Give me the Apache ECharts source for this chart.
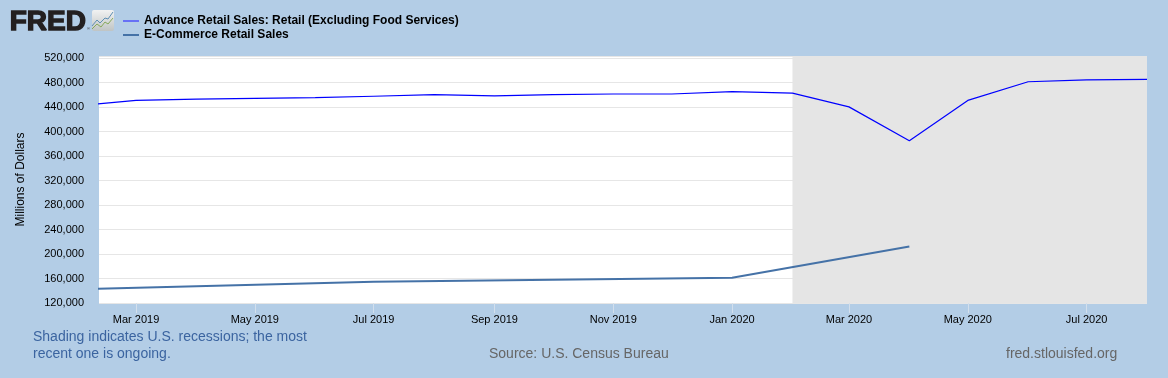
<!DOCTYPE html>
<html>
<head>
<meta charset="utf-8">
<style>html,body{margin:0;padding:0;background:#b3cde6}#c{width:1168px;height:378px}</style>
<script src="https://cdn.jsdelivr.net/npm/echarts@6/dist/echarts.min.js"></script>
</head>
<body>
<div id="c"></div>
<script>
const retailName = 'Advance Retail Sales: Retail (Excluding Food Services)';
const ecomName = 'E-Commerce Retail Sales';
const retailDates = ['2019-02-01','2019-03-01','2019-04-01','2019-05-01','2019-06-01','2019-07-01','2019-08-01','2019-09-01','2019-10-01','2019-11-01','2019-12-01','2020-01-01','2020-02-01','2020-03-01','2020-04-01','2020-05-01','2020-06-01','2020-07-01','2020-08-01'];
const retailValues = [443000,451000,453000,454500,455500,457800,460500,458500,460500,461500,461500,465500,463000,440500,385000,451000,481500,484500,485500];
const ecomDates = ['2019-01-01','2019-04-01','2019-07-01','2019-10-01','2020-01-01','2020-04-01'];
const ecomValues = [140000,147200,154800,158000,161300,212400];
const tickDates = ['2019-03-01','2019-05-01','2019-07-01','2019-09-01','2019-11-01','2020-01-01','2020-03-01','2020-05-01','2020-07-01'];
const tickLabels = ['Mar 2019','May 2019','Jul 2019','Sep 2019','Nov 2019','Jan 2020','Mar 2020','May 2020','Jul 2020'];
const recessionStart = '2020-02-01';
const axisStart = '2019-02-10';
const axisEnd = '2020-08-01';
const yTitle = 'Millions of Dollars';
const noteLines = 'Shading indicates U.S. recessions; the most\nrecent one is ongoing.';
const sourceText = 'Source: U.S. Census Bureau';
const siteText = 'fred.stlouisfed.org';

const ms = s => Date.parse(s + 'T00:00:00Z');
const pairs = (ds, vs) => ds.map((d, i) => [ms(d), vs[i]]);
const FONT = '"Liberation Sans", Arial, sans-serif';
const tickMs = tickDates.map(ms);

const chart = echarts.init(document.getElementById('c'), null, {renderer: 'canvas'});
chart.setOption({
  animation: false,
  backgroundColor: '#b3cde6',
  textStyle: {fontFamily: FONT},
  grid: {left: 99, top: 56, width: 1048, height: 247, show: true, backgroundColor: '#ffffff', borderWidth: 0, containLabel: false},
  legend: {
    orient: 'vertical', left: 118, top: 9, itemGap: 0, itemWidth: 16, itemHeight: 14, padding: 5,
    selectedMode: false,
    textStyle: {fontFamily: FONT, fontSize: 12, color: '#000', fontWeight: 'bold', lineHeight: 14},
    data: [
      {name: retailName, icon: 'path://M0 6.4H16V7.6H0Z', itemStyle: {color: '#3434ff'}},
      {name: ecomName, icon: 'path://M0 6H16V8H0Z', itemStyle: {color: '#4572a7'}}
    ]
  },
  xAxis: {
    type: 'value', min: ms(axisStart), max: ms(axisEnd),
    axisLine: {show: false},
    axisTick: {show: true, length: 10, customValues: tickMs, lineStyle: {color: '#d3dfec', width: 1}},
    splitLine: {show: false},
    axisLabel: {
      customValues: tickMs, margin: 11, fontSize: 11, color: '#000', fontFamily: FONT, hideOverlap: false,
      formatter: v => tickLabels[tickMs.indexOf(v)] || ''
    }
  },
  yAxis: {
    type: 'value', min: 120000, max: 523600, interval: 40000,
    name: yTitle, nameLocation: 'middle', nameGap: 72,
    nameTextStyle: {fontSize: 12, color: '#000', fontFamily: FONT},
    axisLine: {show: false}, axisTick: {show: false},
    splitLine: {show: true, lineStyle: {color: '#e6e6e6', width: 1}},
    axisLabel: {
      margin: 15, fontSize: 11, color: '#000', fontFamily: FONT, showMaxLabel: false,
      formatter: v => v.toLocaleString('en-US')
    }
  },
  series: [
    {
      name: retailName, type: 'line', showSymbol: false, symbol: 'none', smooth: false, z: 3,
      data: pairs(retailDates, retailValues),
      lineStyle: {color: '#0000ff', width: 1.2}, itemStyle: {color: '#0000ff'},
      markArea: {
        silent: true, itemStyle: {color: '#e5e5e5'},
        data: [[{xAxis: ms(recessionStart)}, {xAxis: ms(axisEnd)}]]
      }
    },
    {
      name: ecomName, type: 'line', showSymbol: false, symbol: 'none', smooth: false, z: 3,
      data: pairs(ecomDates, ecomValues),
      lineStyle: {color: '#4572a7', width: 2}, itemStyle: {color: '#4572a7'}
    }
  ],
  graphic: [
    {type: 'text', left: 33, top: 329, style: {text: noteLines, font: '14px ' + FONT, fill: '#3b64a0', lineHeight: 17}},
    {type: 'text', left: 489, top: 347, style: {text: sourceText, font: '14px ' + FONT, fill: '#666666'}},
    {type: 'text', left: 1006, top: 347, style: {text: siteText, font: '14px ' + FONT, fill: '#666666'}},
    {type: 'text', left: 9, top: 8, style: {text: 'FRED', font: 'bold 28px ' + FONT, fill: '#231f20', stroke: '#231f20', lineWidth: 1.4}},
    {type: 'text', left: 87, top: 27, style: {text: '®', font: '4px ' + FONT, fill: '#231f20'}},
    {type: 'rect', shape: {x: 92, y: 10, width: 22, height: 21, r: 2}, style: {fill: new echarts.graphic.LinearGradient(0, 0, 0, 1, [{offset: 0, color: '#f2f2f2'}, {offset: 1, color: '#bfc4c4'}])}},
    {type: 'polyline', shape: {points: [[92, 26], [97, 20], [100, 23], [105, 18], [108, 19], [113, 12]]}, style: {fill: 'none', stroke: '#5f8fb4', lineWidth: 1}},
    {type: 'polyline', shape: {points: [[92, 29], [97, 24], [101, 27], [105, 22], [108, 24], [113, 18]]}, style: {fill: 'none', stroke: '#86a95a', lineWidth: 1}}
  ]
});
</script>
</body>
</html>
